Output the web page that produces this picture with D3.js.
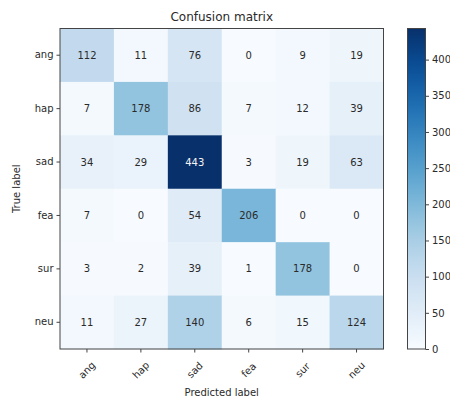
<!DOCTYPE html>
<html>
<head>
<meta charset="utf-8">
<script src="https://cdn.jsdelivr.net/npm/d3@7"></script>
<style>
  html, body { margin: 0; padding: 0; background: #fff; }
  svg { display: block; font-family: "DejaVu Sans", sans-serif; }
</style>
</head>
<body>
<svg id="chart" width="450" height="396"></svg>
<script>
const classes = ["ang", "hap", "sad", "fea", "sur", "neu"];
const rowAng = [112, 11, 76, 0, 9, 19];
const rowHap = [7, 178, 86, 7, 12, 39];
const rowSad = [34, 29, 443, 3, 19, 63];
const rowFea = [7, 0, 54, 206, 0, 0];
const rowSur = [3, 2, 39, 1, 178, 0];
const rowNeu = [11, 27, 140, 6, 15, 124];
const matrix = [rowAng, rowHap, rowSad, rowFea, rowSur, rowNeu];
const colorbarTicks = [0, 50, 100, 150, 200, 250, 300, 350, 400];
const chartTitle = "Confusion matrix";
const xTitle = "Predicted label";
const yTitle = "True label";

(function () {
const svg = d3.select("#chart");
const mLeft = 60, mRight = 383.5, mTop = 28.5, mBottom = 349;
const textColor = "#2a2a2a";

const cells = [];
matrix.forEach((row, i) => row.forEach((v, j) => cells.push({ i, j, v })));
const vmax = d3.max(cells, d => d.v);

const x = d3.scaleBand().domain(classes).range([mLeft, mRight]);
const y = d3.scaleBand().domain(classes).range([mTop, mBottom]);
const color = d3.scaleSequential(d3.interpolateBlues).domain([0, vmax]);

// cells
svg.append("g").selectAll("rect").data(cells).join("rect")
  .attr("x", d => x(classes[d.j]))
  .attr("y", d => y(classes[d.i]))
  .attr("width", x.bandwidth() + 0.5)
  .attr("height", y.bandwidth() + 0.5)
  .attr("fill", d => color(d.v));

// cell text
svg.append("g").selectAll("text").data(cells).join("text")
  .attr("x", d => x(classes[d.j]) + x.bandwidth() / 2)
  .attr("y", d => y(classes[d.i]) + y.bandwidth() / 2)
  .attr("text-anchor", "middle")
  .attr("dominant-baseline", "central")
  .attr("font-size", 10)
  .attr("fill", d => d.v > vmax / 2 ? "#f4f4f4" : textColor)
  .text(d => d.v);

// frame
svg.append("rect")
  .attr("x", mLeft).attr("y", mTop)
  .attr("width", mRight - mLeft).attr("height", mBottom - mTop)
  .attr("fill", "none").attr("stroke", "#444").attr("stroke-width", 1);

// y axis
const yAxis = svg.append("g")
  .attr("transform", `translate(${mLeft},0)`)
  .call(d3.axisLeft(y).tickSize(3.5).tickPadding(3));
yAxis.select(".domain").remove();
yAxis.selectAll("line").attr("stroke", "#444");
yAxis.selectAll("text").attr("font-size", 10).attr("fill", textColor)
  .attr("font-family", "DejaVu Sans, sans-serif");

// x axis
const xAxis = svg.append("g")
  .attr("transform", `translate(0,${mBottom})`)
  .call(d3.axisBottom(x).tickSize(3.5).tickPadding(3));
xAxis.select(".domain").remove();
xAxis.selectAll("line").attr("stroke", "#444");
xAxis.selectAll("text")
  .attr("font-size", 10).attr("fill", textColor)
  .attr("font-family", "DejaVu Sans, sans-serif")
  .attr("text-anchor", "middle")
  .attr("dominant-baseline", "central")
  .attr("y", 0)
  .attr("dy", null)
  .attr("transform", "translate(0,21) rotate(-45)");

// title
svg.append("text")
  .attr("x", (mLeft + mRight) / 2).attr("y", 21)
  .attr("text-anchor", "middle")
  .attr("font-size", 12).attr("fill", textColor)
  .text(chartTitle);

// axis titles
svg.append("text")
  .attr("x", (mLeft + mRight) / 2).attr("y", 392)
  .attr("text-anchor", "middle")
  .attr("dominant-baseline", "central")
  .attr("font-size", 10).attr("fill", textColor)
  .text(xTitle);
svg.append("text")
  .attr("transform", `translate(16,${(mTop + mBottom) / 2}) rotate(-90)`)
  .attr("text-anchor", "middle")
  .attr("dominant-baseline", "central")
  .attr("font-size", 10).attr("fill", textColor)
  .text(yTitle);

// colorbar
const cbX = 407.5, cbW = 18;
const cbScale = d3.scaleLinear().domain([0, vmax]).range([mBottom, mTop]);
const defs = svg.append("defs");
const grad = defs.append("linearGradient").attr("id", "cbgrad")
  .attr("x1", 0).attr("y1", 1).attr("x2", 0).attr("y2", 0);
d3.range(0, 1.0001, 0.05).forEach(t => {
  grad.append("stop").attr("offset", t).attr("stop-color", color(t * vmax));
});
svg.append("rect")
  .attr("x", cbX).attr("y", mTop)
  .attr("width", cbW).attr("height", mBottom - mTop)
  .attr("fill", "url(#cbgrad)")
  .attr("stroke", "#444").attr("stroke-width", 1);
const cbAxis = svg.append("g")
  .attr("transform", `translate(${cbX + cbW},0)`)
  .call(d3.axisRight(cbScale).tickValues(colorbarTicks).tickSize(3.5).tickPadding(3));
cbAxis.select(".domain").remove();
cbAxis.selectAll("line").attr("stroke", "#444");
cbAxis.selectAll("text").attr("font-size", 10).attr("fill", textColor)
  .attr("font-family", "DejaVu Sans, sans-serif");
})();
</script>
</body>
</html>
